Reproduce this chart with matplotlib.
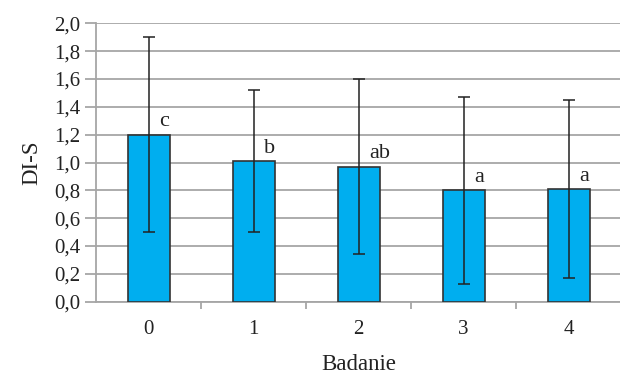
import matplotlib
matplotlib.use("Agg")
import matplotlib.pyplot as plt
import numpy as np
from matplotlib.ticker import FuncFormatter, FixedLocator

categories = ["0", "1", "2", "3", "4"]
means = [1.20, 1.01, 0.97, 0.80, 0.81]
errors = [0.70, 0.51, 0.63, 0.67, 0.64]
letters = ["c", "b", "ab", "a", "a"]

plt.rcParams['font.family'] = ['Liberation Serif', 'DejaVu Serif']

fig = plt.figure(figsize=(6.2, 3.78), dpi=100)
ax = fig.add_axes([96/620, (378-301.7)/378, 525/620, 278.4/378])

x = np.arange(len(categories))
ax.bar(x, means, width=0.4, color="#00AEEF", edgecolor="#333333", linewidth=1.2, zorder=3)
ax.errorbar(x, means, yerr=errors, fmt="none", ecolor="#222222", elinewidth=1.1,
            capsize=4, capthick=1.1, zorder=4)

for xi, m, lab in zip(x, means, letters):
    ax.text(xi + 0.1, m + 0.06, lab, fontsize=16, color="#222222",
            ha="left", va="baseline", zorder=5)

ax.set_xlim(-0.5, len(categories) - 0.5)
ax.set_ylim(0, 2.0)
ax.set_yticks(np.arange(0, 2.01, 0.2))
ax.yaxis.set_major_formatter(FuncFormatter(lambda v, p: f"{v:.1f}".replace(".", ",")))
ax.set_xticks(x)
ax.set_xticklabels(categories)
ax.xaxis.set_minor_locator(FixedLocator(np.arange(0.5, len(categories) - 1, 1.0)))

ax.grid(axis="y", color="#a6a6a6", linewidth=1.3, zorder=0)
ax.set_axisbelow(True)

for s in ["top", "right"]:
    ax.spines[s].set_visible(False)
for s in ["left", "bottom"]:
    ax.spines[s].set_color("#a6a6a6")
    ax.spines[s].set_linewidth(1.3)

ax.tick_params(axis="y", direction="out", length=8, width=1.3, color="#a6a6a6",
               labelsize=15, labelcolor="#222222", pad=3)
ax.tick_params(axis="x", which="major", length=0, labelsize=15, labelcolor="#222222", pad=13)
ax.tick_params(axis="x", which="minor", direction="out", length=5, width=1.3, color="#a6a6a6")

ax.set_xlabel("Badanie", fontsize=16.5, color="#222222", labelpad=11)
ax.set_ylabel("DI-S", fontsize=16.5, color="#222222", labelpad=9)

fig.savefig("out.png", dpi=100)
